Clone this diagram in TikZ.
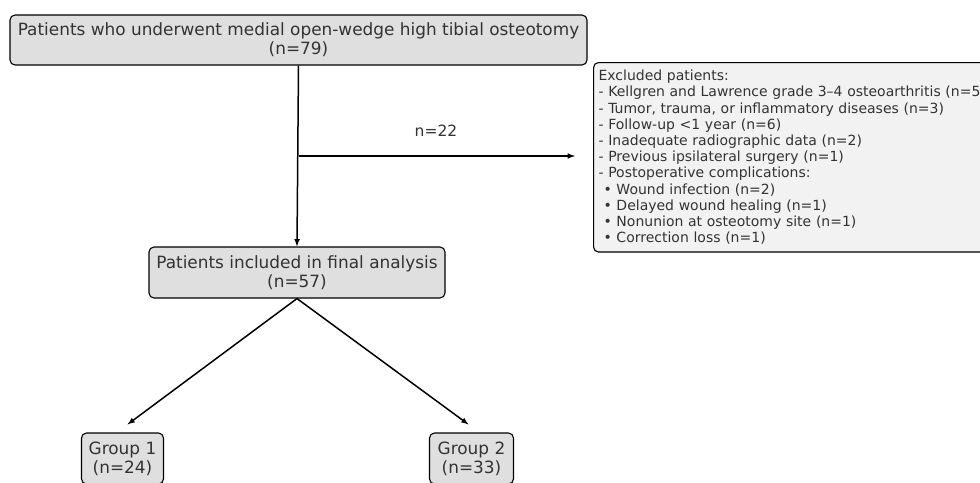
\documentclass[tikz,border=0pt]{standalone}
\usepackage{fontspec}
\setmainfont{DejaVu Sans}
\usepackage{tikz}
\usetikzlibrary{arrows,calc}
\definecolor{txtgray}{HTML}{333333}

\begin{document}
\begin{tikzpicture}[x=1pt,y=-1pt,>=latex,
  box/.style={draw,fill=gray!25,rounded corners=5pt,line width=1.1pt,align=center,text=txtgray,inner sep=0pt,font=\fontsize{16.9}{19}\selectfont},
  flow/.style={->,line width=1.5pt}]
\clip (0,0) rectangle (980,482);
\node[box,minimum width=577pt,minimum height=50pt] (all) at (298.5,40) {Patients who underwent medial open-wedge high tibial osteotomy\\(n=79)};
\node[box,minimum width=296pt,minimum height=51pt] (final) at (297,272.5) {Patients included in final analysis\\(n=57)};
\node[box,minimum width=82pt,minimum height=51pt] (g1) at (122.5,458.5) {Group 1\\(n=24)};
\node[box,minimum width=84pt,minimum height=51pt] (g2) at (471.5,458.5) {Group 2\\(n=33)};
\node[box,fill=gray!10,anchor=north west,align=left,text width=410pt,inner xsep=5pt,inner ysep=7.5pt,font=\fontsize{14}{16.2}\selectfont] (excl) at (593,62) {Excluded patients:\\
- Kellgren and Lawrence grade 3–4 osteoarthritis (n=5)\\
- Tumor, trauma, or inflammatory diseases (n=3)\\
- Follow-up <1 year (n=6)\\
- Inadequate radiographic data (n=2)\\
- Previous ipsilateral surgery (n=1)\\
- Postoperative complications:\\
\hspace*{5pt}• Wound infection (n=2)\\
\hspace*{5pt}• Delayed wound healing (n=1)\\
\hspace*{5pt}• Nonunion at osteotomy site (n=1)\\
\hspace*{5pt}• Correction loss (n=1)};
\coordinate (split) at (all.south |- 0,156);
\draw[flow] (all.south) -- (final.north);
\draw[flow,shorten >=18pt] (split) -- (excl.west |- split);
\node[text=txtgray,font=\fontsize{15.5}{18}\selectfont] (nout) at (436,131) {n=22};
\draw[flow] (final.south) -- ([shift={(5,-8)}]g1.north);
\draw[flow] (final.south) -- ([shift={(-3,-8)}]g2.north);
\end{tikzpicture}
\end{document}
